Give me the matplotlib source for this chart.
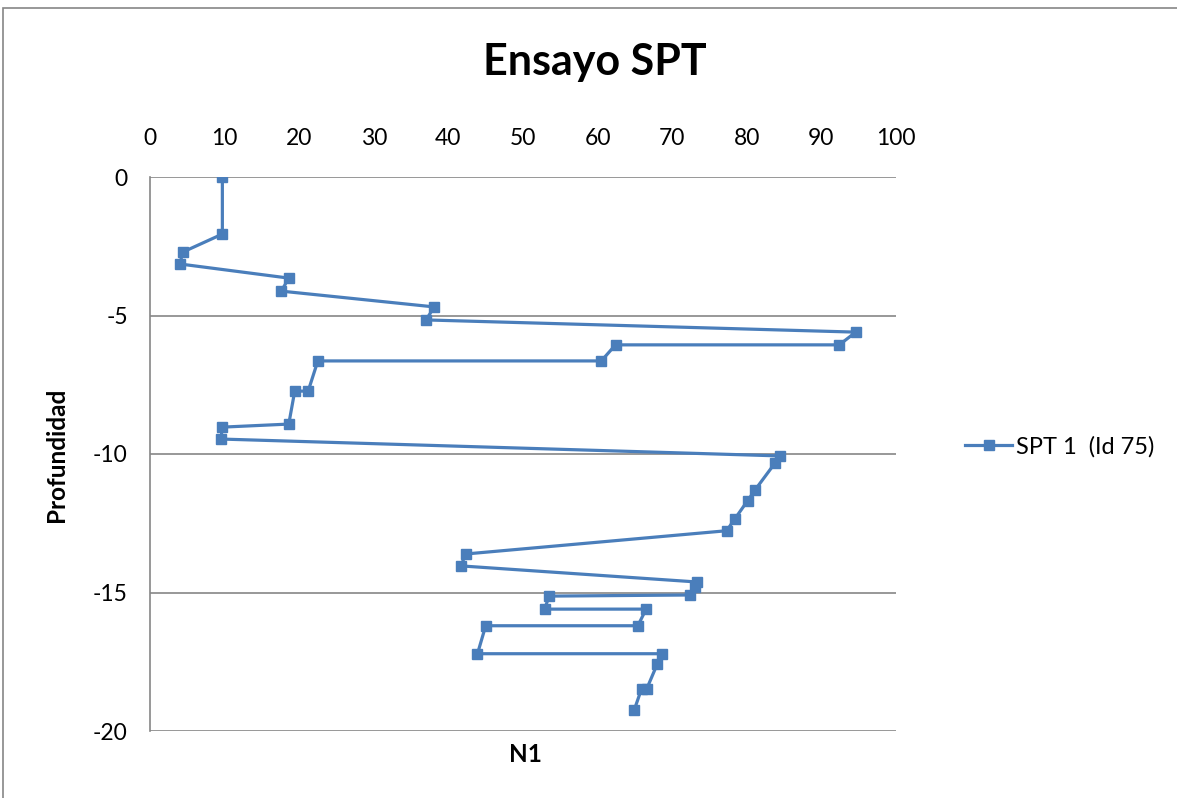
import matplotlib.pyplot as plt
from matplotlib.patches import Rectangle

plt.rcParams['font.family'] = ['Lato', 'DejaVu Sans']
plt.rcParams['axes.unicode_minus'] = False

# N1 blow counts and depths
n1 = [9.7, 9.7, 4.4, 4.0, 18.6, 17.6, 38.1, 37.0, 94.6, 92.4,
      62.4, 60.5, 22.5, 21.2, 19.4, 18.6, 9.7, 9.5, 84.5, 83.8,
      81.1, 80.1, 78.4, 77.3, 42.3, 41.7, 73.3, 73.0, 72.4, 53.5,
      52.9, 66.5, 65.4, 45.0, 43.9, 68.6, 68.0, 66.6, 65.9, 64.9]
depth = [0, -2.06, -2.71, -3.14, -3.65, -4.12, -4.69, -5.16, -5.60, -6.06,
         -6.06, -6.64, -6.64, -7.73, -7.73, -8.92, -9.03, -9.46, -10.07, -10.32,
         -11.30, -11.69, -12.34, -12.77, -13.61, -14.04, -14.62, -14.80, -15.09, -15.13,
         -15.60, -15.60, -16.20, -16.20, -17.21, -17.21, -17.58, -18.47, -18.47, -19.25]

x_ticks = [0, 10, 20, 30, 40, 50, 60, 70, 80, 90, 100]
y_ticks = [0, -5, -10, -15, -20]
blue = '#4A7EBB'
grey = '#868686'

fig = plt.figure(figsize=(11.77, 7.98), dpi=100)
ax = fig.add_axes([150 / 1177, 1 - 731 / 798, 746 / 1177, 554 / 798])

# chart border
fig.patches.append(Rectangle((3 / 1177, -0.1), 1.2, 1.1 - 8 / 798,
                             transform=fig.transFigure, fill=False,
                             edgecolor=grey, linewidth=1.2))

line, = ax.plot(n1, depth, color=blue, linewidth=2.3, marker='s',
                markersize=7, markerfacecolor=blue, markeredgecolor=blue,
                label='SPT 1  (Id 75)')

ax.set_xlim(0, 100)
ax.set_ylim(-20, 0)
ax.set_xticks(x_ticks)
ax.set_yticks(y_ticks)
ax.xaxis.tick_top()
ax.tick_params(length=0, labelsize=16.5, pad=16)
ax.tick_params(axis='x', pad=20)

for s in ['top', 'right', 'bottom']:
    ax.spines[s].set_visible(False)
ax.spines['left'].set_color(grey)
ax.spines['left'].set_linewidth(1.2)
for yv in y_ticks:
    ax.axhline(yv, color=grey, linewidth=1.2, zorder=0)

fig.text(0.505, 1 - 62 / 798, 'Ensayo SPT', ha='center', va='center',
         fontsize=31, fontweight='bold')
fig.text(57 / 1177, 1 - 455 / 798, 'Profundidad', rotation=90,
         ha='center', va='center', fontsize=17.5, fontweight='bold')
fig.text(525 / 1177, 1 - 755 / 798, 'N1', ha='center', va='center',
         fontsize=17.5, fontweight='bold')

fig.legend(handles=[line], loc='center left',
           bbox_to_anchor=(944 / 1177, 1 - 447 / 798), frameon=False,
           fontsize=17, handlelength=2.0, handletextpad=0.15)

fig.savefig('out.png', dpi=100)
